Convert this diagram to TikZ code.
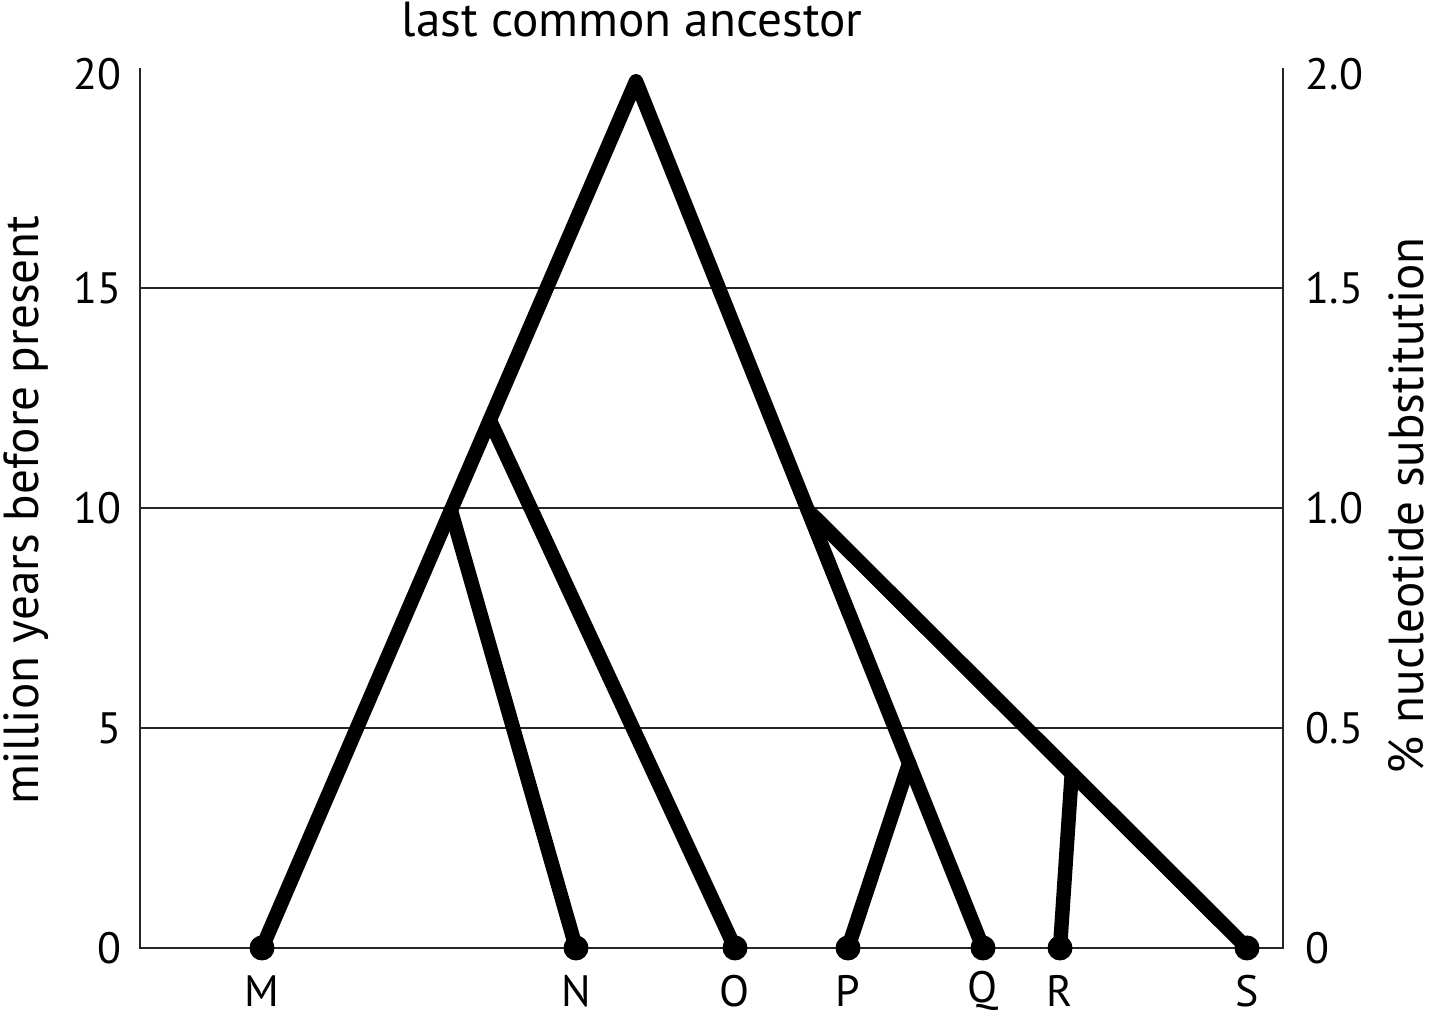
\documentclass[tikz,border=0pt]{standalone}
\usepackage{fontspec}
\setmainfont{PT Sans}
\usetikzlibrary{positioning}
\usetikzlibrary{calc}

\begin{document}
\begin{tikzpicture}[x=1cm,y=0.44cm]
  \tikzset{axis/.style = {draw=black!85, line width=0.6pt}}
  \tikzset{branch/.style = {draw, line width=4.1pt, line join=round, line cap=round}}
  \tikzset{leaf/.style = {shape=circle, fill, inner sep=0pt, minimum size=0.25cm}}
  \tikzset{lbl/.style = {font=\fontsize{12.5}{14}\selectfont, inner sep=0pt}}
  \tikzset{title/.style = {font=\fontsize{14}{16}\selectfont, inner sep=0pt}}

  \fill[white] (0,-1.545) rectangle (14.4,21.545);
  \useasboundingbox (0,-1.545) rectangle (14.4,21.545);

  %%%%%%%%%%%% axes and grid

  \draw[axis] (1.40,20) -- (1.40,0) -- (12.83,0) -- (12.83,20);
  \draw[axis] (1.40,5) -- (12.83,5);
  \draw[axis] (1.40,10) -- (12.83,10);
  \draw[axis] (1.40,15) -- (12.83,15);

  \node[lbl, anchor=east] (t0) at (1.22,0) {0};
  \node[lbl, anchor=east] (t5) at (1.22,5) {5};
  \node[lbl, anchor=east] (t10) at (1.22,10) {10};
  \node[lbl, anchor=east] (t15) at (1.22,15) {15};
  \node[lbl, anchor=east] (t20) at (1.22,19.85) {20};

  \node[lbl, anchor=west] (s0) at (13.05,0) {0};
  \node[lbl, anchor=west] (s5) at (13.05,5) {0.5};
  \node[lbl, anchor=west] (s10) at (13.05,10) {1.0};
  \node[lbl, anchor=west] (s15) at (13.05,15) {1.5};
  \node[lbl, anchor=west] (s20) at (13.05,19.85) {2.0};

  \node[title, rotate=90] (years) at (0.26,9.95) {million years before present};
  \node[title, rotate=90] (subst) at (14.06,10.05) {\% nucleotide substitution};

  \node[title] (lca) at (6.32,21.1) {last common ancestor};

  %%%%%%%%%%%% leaves

  \node[leaf] (M) at (2.62,0) {};
  \node[leaf] (N) at (5.76,0) {};
  \node[leaf] (O) at (7.35,0) {};
  \node[leaf] (P) at (8.48,0) {};
  \node[leaf] (Q) at (9.83,0) {};
  \node[leaf] (R) at (10.60,0) {};
  \node[leaf] (S) at (12.47,0) {};

  \node[lbl] (lM) at (2.62,-0.97) {M};
  \node[lbl] (lN) at (5.76,-0.97) {N};
  \node[lbl] (lO) at (7.35,-0.97) {O};
  \node[lbl] (lP) at (8.48,-0.97) {P};
  \node[lbl] (lQ) at (9.83,-0.97) {Q};
  \node[lbl] (lR) at (10.60,-0.97) {R};
  \node[lbl] (lS) at (12.47,-0.97) {S};

  %%%%%%%%%%%% branch points

  \coordinate (root) at (6.36,19.7);
  \coordinate (mo) at ($(root)!0.391!(M.center)$);
  \coordinate (mn) at ($(root)!0.495!(M.center)$);
  \coordinate (qs) at ($(root)!0.495!(Q.center)$);
  \coordinate (pq) at ($(root)!0.787!(Q.center)$);
  \coordinate (rs) at ($(qs)!0.601!(S.center)$);

  %%%%%%%%%%%% branches

  \draw[branch] (M.center) -- (root) -- (Q.center);
  \draw[branch] (mo) -- (O.center);
  \draw[branch] (mn) -- (N.center);
  \draw[branch] (qs) -- (S.center);
  \draw[branch] (pq) -- (P.center);
  \draw[branch] (rs) -- (R.center);

\end{tikzpicture}
\end{document}
